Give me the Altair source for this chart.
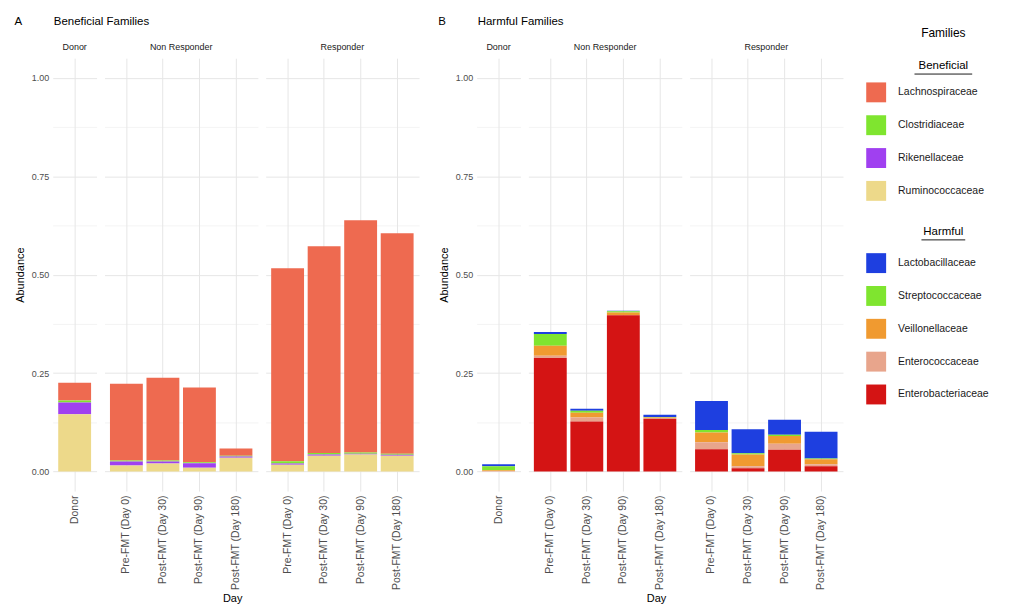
import altair as alt
import pandas as pd

FONT = "Liberation Sans"
GRID = "#E6E6E6"

# Sample groups and visits
groups = ["Donor", "Non Responder", "Responder"]
donor_days = ["Donor"]
visit_days = ["Pre-FMT (Day 0)", "Post-FMT (Day 30)", "Post-FMT (Day 90)", "Post-FMT (Day 180)"]

# One bar per (group, visit)
bar_group = ["Donor"] + ["Non Responder"] * 4 + ["Responder"] * 4
bar_day = donor_days + visit_days + visit_days

# Beneficial families (legend order, top of stack first)
beneficial_families = ["Lachnospiraceae", "Clostridiaceae", "Rikenellaceae", "Ruminococcaceae"]
beneficial_colors = ["#EE6A50", "#7FE52F", "#A040F0", "#EDD98A"]
lachnospiraceae = [0.045, 0.195, 0.210, 0.190, 0.018, 0.490, 0.525, 0.590, 0.560]
clostridiaceae = [0.005, 0.003, 0.003, 0.002, 0.002, 0.006, 0.004, 0.003, 0.003]
rikenellaceae = [0.030, 0.010, 0.005, 0.012, 0.003, 0.003, 0.003, 0.002, 0.002]
ruminococcaceae = [0.145, 0.015, 0.020, 0.009, 0.035, 0.017, 0.040, 0.043, 0.040]

# Harmful families
harmful_families = ["Lactobacillaceae", "Streptococcaceae", "Veillonellaceae",
                    "Enterococcaceae", "Enterobacteriaceae"]
harmful_colors = ["#1E3FE0", "#7FE52F", "#F09A30", "#E8A58C", "#D41414"]
lactobacillaceae = [0.005, 0.005, 0.005, 0.001, 0.006, 0.074, 0.061, 0.038, 0.068]
streptococcaceae = [0.010, 0.030, 0.005, 0.003, 0.001, 0.006, 0.003, 0.003, 0.002]
veillonellaceae = [0.002, 0.025, 0.012, 0.007, 0.002, 0.025, 0.030, 0.020, 0.013]
enterococcaceae = [0.001, 0.006, 0.010, 0.000, 0.001, 0.018, 0.005, 0.015, 0.005]
enterobacteriaceae = [0.000, 0.288, 0.127, 0.397, 0.134, 0.056, 0.008, 0.055, 0.013]

y_ticks = [0, 0.125, 0.25, 0.375, 0.5, 0.625, 0.75, 0.875, 1.0]


def long_table(families, series):
    rows = []
    for rank, (fam, vals) in enumerate(zip(families, series)):
        for g, d, v in zip(bar_group, bar_day, vals):
            rows.append({"group": g, "day": d, "family": fam, "rank": rank, "value": v})
    return pd.DataFrame(rows)


ben_df = long_table(beneficial_families,
                    [lachnospiraceae, clostridiaceae, rikenellaceae, ruminococcaceae])
harm_df = long_table(harmful_families,
                     [lactobacillaceae, streptococcaceae, veillonellaceae,
                      enterococcaceae, enterobacteriaceae])

color_scale = alt.Scale(domain=beneficial_families + harmful_families,
                        range=beneficial_colors + harmful_colors)

STEP = 36.7
HEIGHT = 435


def cell(df, group, days, show_y):
    width = STEP * (len(days) + 0.2)
    y_axis = alt.Axis(
        values=y_ticks,
        labelExpr="(datum.value * 4) % 1 == 0 ? format(datum.value, '.2f') : ''",
        labels=show_y,
        title="Abundance" if show_y else None,
        ticks=False, domain=False,
        gridColor=GRID,
        gridWidth={"condition": {"test": "(datum.value * 4) % 1 == 0", "value": 1.0}, "value": 0.5},
        labelFontSize=9, labelColor="#4D4D4D", labelPadding=4,
        titleFontSize=11, titleFontWeight="normal", titleColor="#000000", titlePadding=6,
    )
    x_axis = alt.Axis(
        title=None, labelAngle=-90, ticks=False, domain=False,
        grid=True, gridColor=GRID, gridWidth=1,
        labelFontSize=10.5, labelColor="#4D4D4D", labelPadding=4,
    )
    return (
        alt.Chart(df)
        .transform_filter(alt.datum.group == group)
        .mark_bar()
        .encode(
            x=alt.X("day:N", sort=days,
                    scale=alt.Scale(domain=days, paddingInner=0.1, paddingOuter=0.15),
                    axis=x_axis),
            y=alt.Y("sum(value):Q", stack="zero",
                    scale=alt.Scale(domain=[-0.05, 1.05], nice=False, zero=False),
                    axis=y_axis),
            color=alt.Color("family:N", scale=color_scale, legend=None),
            order=alt.Order("rank:Q", sort="descending"),
            detail="family:N",
        )
        .properties(
            width=width, height=HEIGHT,
            title=alt.TitleParams(group, fontSize=9, fontWeight="normal",
                                  color="#1A1A1A", anchor="middle", offset=6),
        )
    )


def panel(df, letter, name):
    cells = alt.hconcat(
        cell(df, "Donor", donor_days, True),
        cell(df, "Non Responder", visit_days, False),
        cell(df, "Responder", visit_days, False),
        spacing=7,
    ).properties(
        title=alt.TitleParams("Day", orient="bottom", anchor="middle", fontSize=11,
                              fontWeight="normal", color="#000000", offset=3, dx=16)
    )
    return alt.vconcat(cells).properties(
        title=alt.TitleParams(letter + "\u00a0" * 10 + name, anchor="start", frame="bounds",
                              fontSize=11.5, fontWeight="normal", color="#000000", offset=16)
    )


# Custom legend: two underlined sections of colour swatches
leg_items = []
slot = 1.8
for fam in beneficial_families:
    leg_items.append({"label": fam, "slot": slot})
    slot += 1
harm_header_slot = slot + 0.25
slot = harm_header_slot + 0.95
for fam in harmful_families:
    leg_items.append({"label": fam, "slot": slot})
    slot += 1
items_df = pd.DataFrame(leg_items)
items_df["family"] = items_df["label"]
items_df["sx"] = 14.5
items_df["tx"] = 36.5

HEAD_X = 82
headers = [("Families", 0.0, 12, False, 0), ("Beneficial", 1.0, 11.5, True, 29),
           ("Harmful", harm_header_slot, 11.5, True, 22)]
head_df = pd.DataFrame([{"label": t, "slot": s, "size": fs, "under": u, "cx": HEAD_X,
                         "x0": HEAD_X - half, "x1": HEAD_X + half}
                        for t, s, fs, u, half in headers])

LEG_W = 150
LEG_UNIT = 33.0
xs = alt.Scale(domain=[0, LEG_W], range=[0, LEG_W])
ys = alt.Scale(domain=[0.76, 0.76 + 425 / LEG_UNIT], range=[0, 425])

swatches = alt.Chart(items_df).mark_square(size=400, opacity=1).encode(
    x=alt.X("sx:Q", scale=xs, axis=None),
    y=alt.Y("slot:Q", scale=ys, axis=None),
    color=alt.Color("family:N", scale=color_scale, legend=None),
)
labels = alt.Chart(items_df).mark_text(align="left", baseline="middle", fontSize=10.5,
                                       color="#1A1A1A").encode(
    x=alt.X("tx:Q", scale=xs, axis=None),
    y=alt.Y("slot:Q", scale=ys, axis=None),
    text="label:N",
)
head_text = alt.Chart(head_df).mark_text(align="center", baseline="middle",
                                         color="#000000").encode(
    x=alt.X("cx:Q", scale=xs, axis=None),
    y=alt.Y("slot:Q", scale=ys, axis=None),
    text="label:N",
    size=alt.Size("size:Q", scale=None, legend=None),
)
underline = alt.Chart(head_df).transform_filter("datum.under").mark_rule(
    color="#000000", strokeWidth=0.9, yOffset=8).encode(
    x=alt.X("x0:Q", scale=xs, axis=None),
    x2="x1:Q",
    y=alt.Y("slot:Q", scale=ys, axis=None),
)
legend = alt.layer(swatches, labels, head_text, underline).properties(width=LEG_W, height=425)

chart = (
    alt.hconcat(panel(ben_df, "A", "Beneficial Families"),
                panel(harm_df, "B", "Harmful Families"),
                legend, spacing=18)
    .configure(font=FONT, padding={"left": 14, "top": 14, "right": 2, "bottom": 2})
    .configure_view(stroke=None)
)

chart.save("out.html", embed_options={"renderer": "svg", "actions": False})
